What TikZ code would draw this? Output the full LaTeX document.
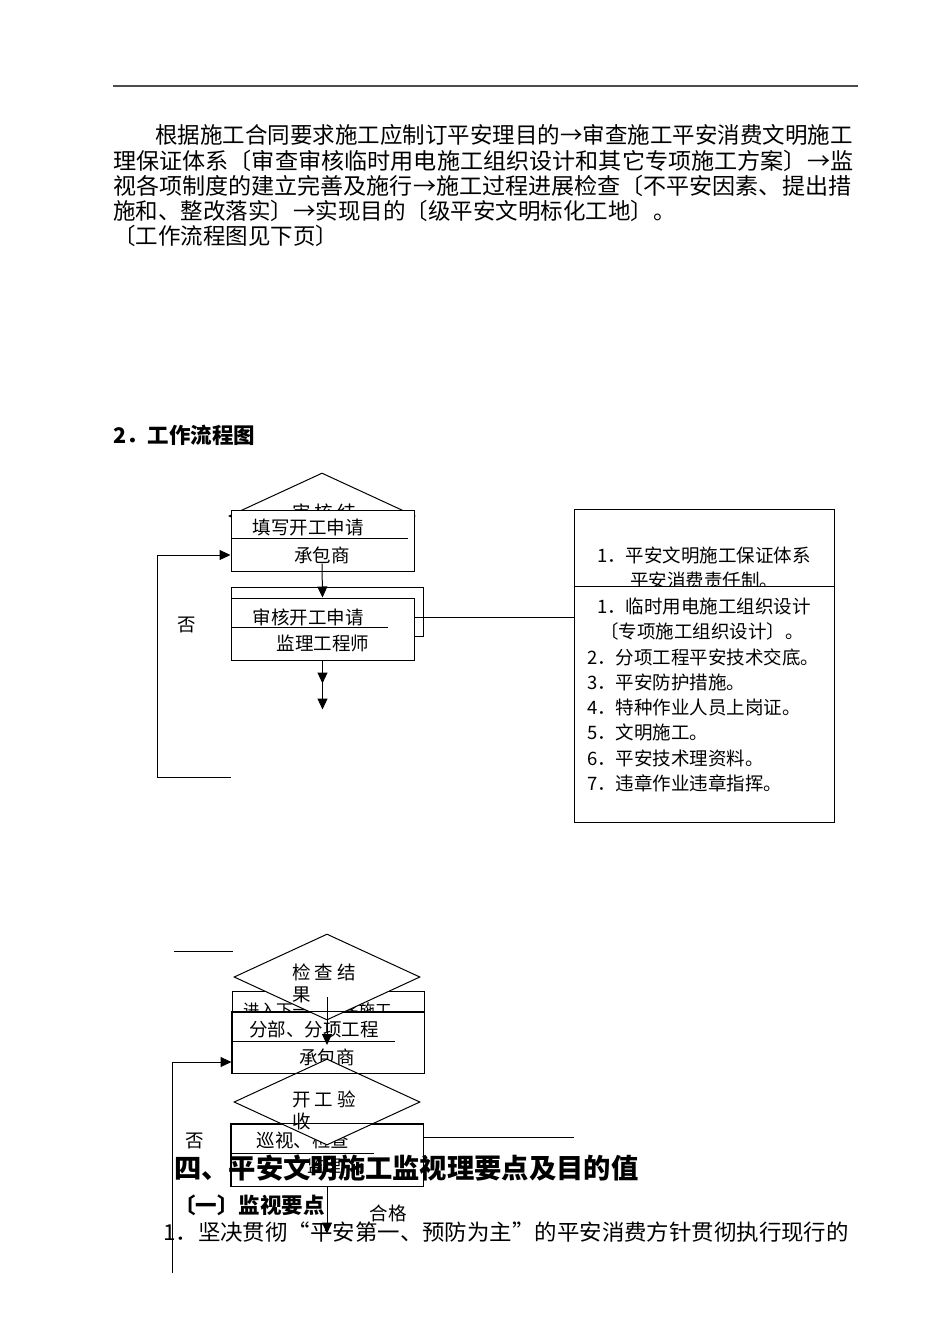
\documentclass[tikz,border=0pt]{standalone}
\usepackage{fontspec}
\setmainfont{Noto Sans CJK SC}
\usetikzlibrary{shapes.geometric,arrows.meta}

\tikzset{
  every node/.style={inner sep=0pt},
  para/.style={anchor=west,font=\fontsize{22.5}{25}\selectfont},
  fl/.style={font=\fontsize{18.5}{23}\selectfont},
  box/.style={draw,fill=white,line width=1pt},
  dia/.style={diamond,draw,fill=white,line width=1pt,minimum width=186pt,minimum height=86pt},
  arr/.style={line width=1pt,-{Triangle[length=11pt,width=10pt]}},
  ln/.style={line width=1pt}
}

\begin{document}
\begin{tikzpicture}[x=1pt,y=-1pt]
\useasboundingbox (0,0) rectangle (950,1344);
% page text
\draw[line width=2pt,black!70] (113,86) -- (858,86);
\node[para] (p1) at (155,135) {根据施工合同要求施工应制订平安理目的→审查施工平安消费文明施工};
\node[para,xscale=1.028] (p2) at (113,161) {理保证体系〔审查审核临时用电施工组织设计和其它专项施工方案〕→监};
\node[para,xscale=1.025] (p3) at (113,186) {视各项制度的建立完善及施行→施工过程进展检查〔不平安因素、提出措};
\node[para] (p4) at (113,211) {施和、整改落实〕→实现目的〔级平安文明标化工地〕。};
\node[para] (p5) at (113,236) {〔工作流程图见下页〕};
\node[anchor=west,font=\fontsize{21.5}{24}\selectfont\bfseries] (h2) at (113,435) {2．工作流程图};

% upper flow
\node[dia] (aud) at (322,516) {};
\node[fl,anchor=west] (aud1) at (292,512) {审~核~结};
\node[fl,anchor=west] (aud2) at (292,535) {果};
\node[box,minimum width=183pt,minimum height=61pt] (fill1) at (322.5,540.5) {};
\draw[ln] (231,538) -- (408,538);
\node[fl] (fill1a) at (308,527) {填写开工申请};
\node[fl] (fill1b) at (322,555) {承包商};
\node[box,minimum width=192pt,minimum height=49pt] (appbk) at (327,611.5) {};
\node[box,minimum width=183pt,minimum height=62pt] (app) at (322.5,629) {};
\draw[ln] (231,627) -- (388,627);
\node[fl] (appa) at (308,617) {审核开工申请};
\node[fl] (appb) at (323,643) {监理工程师};
\draw[arr] (fill1b.south) -- (app.north);
\draw[arr] (app.south) -- ++(0,23);
\draw[arr] (app.south) -- ++(0,49);
\coordinate (fb1) at (157,777);
\draw[arr] (fb1 -| app.west) -- (fb1) -- (fb1 |- fill1b) -- (fill1.west |- fill1b);
\node[fl] (no1) at (187,625) {否};

% right boxes
\node[box,minimum width=260pt,minimum height=100pt] (sys) at (704,559) {};
\node[fl] (sysa) at (704,555) {1．平安文明施工保证体系};
\node[fl] (sysb) at (704,580) {平安消费责任制。};
\node[box,minimum width=260pt,minimum height=236pt] (lst) at (704,704) {};
\node[fl] (l1) at (704,606) {1．临时用电施工组织设计};
\node[fl] (l1b) at (702,631) {〔专项施工组织设计〕。};
\node[fl,anchor=west] (l2) at (587,657) {2．分项工程平安技术交底。};
\node[fl,anchor=west] (l3) at (587,682) {3．平安防护措施。};
\node[fl,anchor=west] (l4) at (587,707) {4．特种作业人员上岗证。};
\node[fl,anchor=west] (l5) at (587,732) {5．文明施工。};
\node[fl,anchor=west] (l6) at (587,758) {6．平安技术理资料。};
\node[fl,anchor=west] (l7) at (587,783) {7．违章作业违章指挥。};
\draw[ln] (app.east |- appa) -- (lst.west |- appa);

% lower flow
\coordinate (s1) at (174,951);
\coordinate (s2) at (233,951);
\draw[ln] (s1) -- (s2);
\node[box,minimum width=192pt,minimum height=61pt] (nxtbk) at (328,1021.5) {};
\node[anchor=west,font=\fontsize{16.5}{20}\selectfont] (nxt) at (243,1010) {进入下一道工序施工};
\node[box,minimum width=192pt,minimum height=61pt] (sub) at (328,1042.5) {};
\draw[ln] (232,1041) -- (395,1041);
\node[fl] (suba) at (314,1029) {分部、分项工程};
\node[fl] (subb) at (327,1057) {承包商};
\node[dia] (chk) at (327,977) {};
\node[fl,anchor=west] (chk1) at (292,972) {检~查~结};
\node[fl,anchor=west] (chk2) at (292,995) {果};
\draw[ln] (sub.north west) rectangle (sub.south east);
\draw[arr] (chk.center) ++(0,20) -- ++(0,48);
\node[box,minimum width=192pt,minimum height=62pt] (pat) at (327,1155) {};
\draw[ln] (231,1153) -- (374,1153);
\node[fl] (pata) at (303,1140) {巡视、检查};
\node[font=\fontsize{17}{20}\selectfont] (patb) at (324,1166) {监理};
\node[dia] (kg) at (327,1102) {};
\node[fl,anchor=west] (kg1) at (292,1099) {开~工~验};
\node[fl,anchor=west] (kg2) at (292,1121) {收};
\draw[ln] (sub.north west) rectangle (sub.south east);
\draw[ln] (pat.north west) rectangle (pat.south east);
\coordinate (fb2) at (172,1062);
\draw[arr] (172,1273) -- (fb2) -- (fb2 -| sub.west);
\node[fl] (no2) at (195,1141) {否};
\coordinate (r2) at (574,1137);
\draw[ln] (r2 -| pat.east) -- (r2);
\draw[arr] (pat.south) -- ++(0,47);
\node[fl] (ok) at (388,1213) {合格};

% section text
\node[anchor=west,font=\fontsize{27.3}{30}\selectfont\bfseries] (h4) at (174,1168) {四、平安文明施工监视理要点及目的值};
\node[anchor=west,font=\fontsize{21.5}{24}\selectfont\bfseries] (h41) at (174,1205) {〔一〕监视要点};
\node[anchor=west,font=\fontsize{22}{25}\selectfont,xscale=1.02] (b1) at (163,1232) {1．坚决贯彻“平安第一、预防为主”的平安消费方针贯彻执行现行的};
\end{tikzpicture}
\end{document}
